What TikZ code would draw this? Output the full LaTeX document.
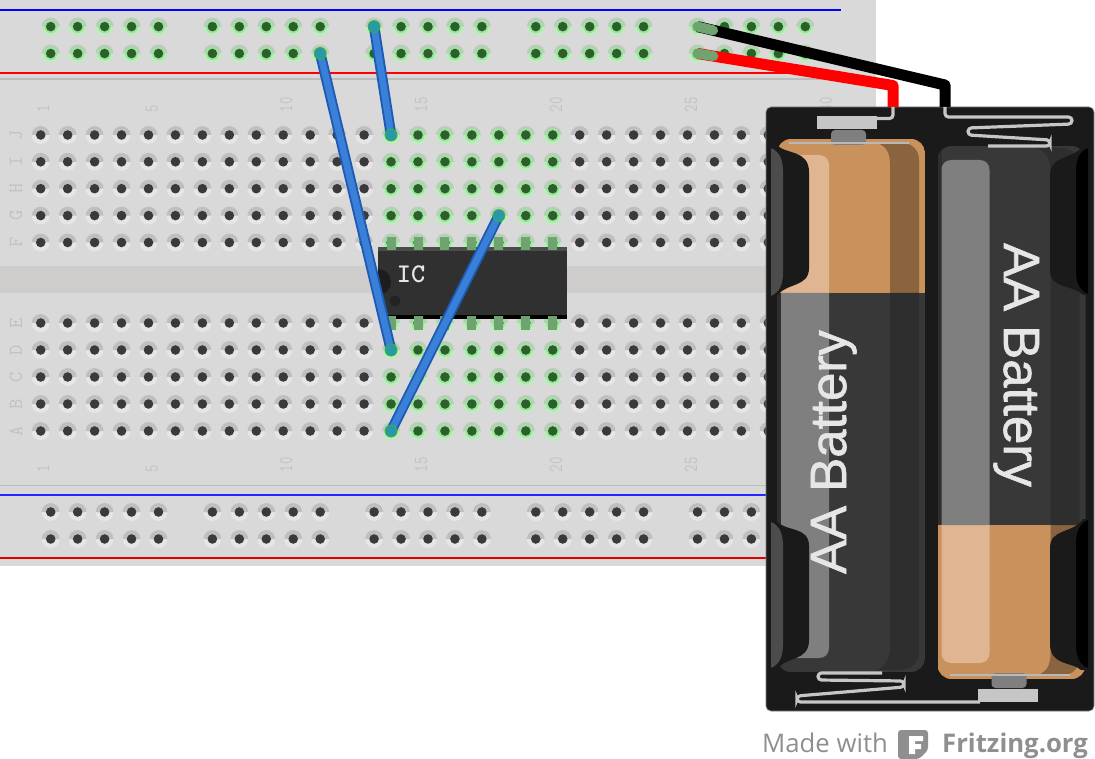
\documentclass[tikz,border=0pt]{standalone}
\usepackage{fontspec}
\setsansfont{Open Sans}
\newfontfamily\batfont[FakeBold=1.2]{Liberation Sans}
\usetikzlibrary{calc}
\definecolor{boardgray}{HTML}{D9D9D9}
\definecolor{channelgray}{HTML}{CFCDCB}
\definecolor{railgray}{HTML}{BDBDBD}
\definecolor{labelgray}{HTML}{C2C2C2}
\definecolor{rimtop}{HTML}{BFBFBF}
\definecolor{rimlow}{HTML}{E6E6E6}
\definecolor{corehole}{HTML}{3A3A3A}
\definecolor{greentop}{HTML}{BFC9BF}
\definecolor{greenlow}{HTML}{BDEDBD}
\definecolor{greenring}{HTML}{9BE49B}
\definecolor{greencore}{HTML}{2C5F2C}
\definecolor{wireout}{HTML}{1D5AB2}
\definecolor{wirein}{HTML}{3A80D8}
\definecolor{wireend}{HTML}{2A98A8}
\definecolor{pingreen}{HTML}{6FA36F}
\definecolor{icbody}{HTML}{303030}
\definecolor{batblack}{HTML}{1A1A1A}
\definecolor{cellgray}{HTML}{383838}
\definecolor{celldark}{HTML}{2E2E2E}
\definecolor{copper}{HTML}{C9915B}
\definecolor{copperlight}{HTML}{DFB691}
\definecolor{copperdark}{HTML}{89643E}
\definecolor{striplight}{HTML}{7F7F7F}
\definecolor{springgray}{HTML}{C6C6C6}
\definecolor{logogray}{HTML}{8F8F8F}
\tikzset{
  holecore/.style={circle,inner sep=0pt,minimum size=9.6pt},
  rowlabel/.style={rotate=90,text=labelgray,inner sep=0pt,font=\fontsize{20}{20}\selectfont\ttfamily},
  numlabel/.style={rotate=90,anchor=west,text=labelgray,inner sep=0pt,font=\fontsize{20}{20}\selectfont\ttfamily},
  icpin/.style={fill=pingreen},
  jumper/.style={line width=10.6pt,wireout},
  jumpercore/.style={line width=6.8pt,wirein},
  jumperend/.style={circle,fill=wireend,draw=green!65!black!80,line width=0.8pt,inner sep=0pt,minimum size=12pt},
  battwire/.style={line width=11pt,line join=round},
  wiretip/.style={line width=10pt,pingreen,line cap=round},
  spring/.style={line width=3.2pt,springgray,rounded corners=3.5pt},
  battext/.style={text=rimlow,inner sep=0pt,font=\fontsize{51}{51}\selectfont\batfont},
  madewith/.style={anchor=base west,text=logogray,inner sep=0pt,font=\fontsize{25.7}{26}\selectfont\sffamily},
}
\newcommand{\plainhole}[3]{
  \fill[rimlow] (#1,#2) circle[radius=9pt];
  \fill[rimtop] (#1-9,#2) arc[start angle=180,end angle=0,radius=9pt] -- cycle;
  \node[holecore,fill=corehole] (#3) at (#1,#2) {};
}
\newcommand{\greenhole}[3]{
  \fill[greenlow] (#1,#2) circle[radius=9pt];
  \fill[greentop] (#1-9,#2) arc[start angle=180,end angle=0,radius=9pt] -- cycle;
  \fill[greenring] (#1,#2) circle[radius=6.6pt];
  \node[holecore,fill=greencore] (#3) at (#1,#2) {};
}
\newcommand{\battcell}{
  \begin{scope}
    \clip[rounded corners=14pt] (777,139) rectangle (925,672);
    \fill[copper] (777,139) rectangle (925,293);
    \fill[cellgray] (777,293) rectangle (925,672);
    \fill[celldark] (777,293) rectangle (781,672);
    \fill[copperdark] (877,143) .. controls (886,146) and (890,152) .. (890,165) -- (890,293)
      -- (919,293) -- (919,160) .. controls (919,150) and (912,143) .. (902,143) -- cycle;
    \fill[celldark] (890,293) -- (890,645) .. controls (890,660) and (885,668) .. (875,670)
      -- (900,670) .. controls (912,670) and (919,662) .. (919,650) -- (919,293) -- cycle;
    \fill[copperlight] (781,293) -- (781,165) .. controls (781,159) and (785,155) .. (791,155)
      -- (819,155) .. controls (825,155) and (829,159) .. (829,165) -- (829,293) -- cycle;
    \fill[striplight] (781,293) -- (781,648) .. controls (781,654) and (785,658) .. (791,658)
      -- (819,658) .. controls (825,658) and (829,654) .. (829,648) -- (829,293) -- cycle;
  \end{scope}
  \fill[striplight,rounded corners=4pt] (831,145) -- (831,130) -- (866,130) -- (866,145) -- cycle;
  \fill[rimtop!90!gray] (789,142.2) -- (909,142.2) -- (909,144) -- (789,144) -- cycle;
  \fill[springgray] (817,116) rectangle (877,129);
}
\newcommand{\battclip}[1]{
  \fill[batblack] (771,146) -- (778,146) .. controls (786,154) and (809,150) .. (809,172)
    -- (809,268) .. controls (809,288) and (786,282) .. (776,297) -- (771,297) -- cycle;
  \fill[batblack] (771,521) -- (776,521) .. controls (786,532) and (809,526) .. (809,546)
    -- (809,640) .. controls (809,662) and (786,656) .. (776,670) -- (771,670) -- cycle;
  \fill[#1] (771,148) .. controls (780,152) and (783,160) .. (783,172)
    -- (783,272) .. controls (783,284) and (780,292) .. (771,296) -- cycle;
  \fill[#1] (771,522) .. controls (780,526) and (783,534) .. (783,546)
    -- (783,644) .. controls (783,656) and (780,664) .. (771,668) -- cycle;
}
\begin{document}
\begin{tikzpicture}[x=1pt,y=-1pt]
\useasboundingbox (0,0) rectangle (1095,759);

\fill[boardgray] (0,0) rectangle (876,566);
\fill[channelgray] (0,266) rectangle (876,293);
\draw[railgray,line width=2.5pt] (0,79) -- (876,79);
\draw[railgray,line width=1.2pt] (0,485.5) -- (876,485.5);
\draw[blue,line width=1.5pt] (0,10) -- (841,10);
\draw[red,line width=1.5pt] (0,73) -- (841,73);
\draw[blue!85!white,line width=1.8pt] (0,495) -- (841,495);
\draw[red!90!black,line width=1.8pt] (0,558) -- (841,558);

\foreach \num/\numx in {1/43,5/152,10/286,15/421,20/556,25/691,30/826} {
  \node[numlabel] at (\numx,112.5) {\scalebox{0.72}[1]{\num}};
  \node[numlabel] at (\numx,472.5) {\scalebox{0.72}[1]{\num}};
}
\foreach \letter/\lettery in {J/135,I/161.8,H/188.7,G/215.6,F/242.5,E/323,D/350,C/377,B/404,A/431}
  \node[rowlabel] at (16,\lettery) {\letter};

\foreach \col in {1,...,30} {
  \pgfmathsetmacro{\colx}{40.7+26.95*(\col-1)}
  \foreach \row/\rowy in {j/135,i/161.8,h/188.7,g/215.6,f/242.5,e/323,d/350,c/377,b/404,a/431} {
    \ifnum\col>13 \ifnum\col<21
      \greenhole{\colx}{\rowy}{\row\col}
    \else
      \plainhole{\colx}{\rowy}{\row\col}
    \fi \else
      \plainhole{\colx}{\rowy}{\row\col}
    \fi
  }
}

\foreach \grp in {0,...,4} {
  \foreach \pos in {1,...,5} {
    \pgfmathtruncatemacro{\num}{5*\grp+\pos}
    \pgfmathsetmacro{\railx}{50.7+26.95*(\pos-1+6*\grp)}
    \greenhole{\railx}{26.6}{ta\num}
    \greenhole{\railx}{53.5}{tb\num}
    \plainhole{\railx}{512}{ba\num}
    \plainhole{\railx}{539}{bb\num}
  }
}

\node[fill=icbody,inner sep=0pt,minimum width=189pt,minimum height=72pt] (ic) at (472.5,283) {};
\fill[black] (378,315.5) rectangle (567,319);
\fill[black!70] (378,247) rectangle (567,251.5);
\foreach \col in {14,...,20} {
  \fill[icpin] ($(f\col)+(-4.5,-5)$) rectangle ($(f\col)+(4.5,8)$);
  \fill[icpin] ($(e\col)+(-4.5,-7)$) rectangle ($(e\col)+(4.5,7)$);
}
\fill[batblack!85!icbody] (378,269) arc[start angle=90,end angle=-90,radius=13pt] -- cycle;
\fill[batblack!60!icbody] (395,301) circle[radius=5.5pt];
\node[text=rimlow,inner sep=0pt,font=\fontsize{27}{27}\selectfont\ttfamily\bfseries] (iclabel) at (411,274.5) {IC};

\foreach \from/\to in {tb10/d14,ta11/j14,g18/a14} {
  \draw[jumper] (\from.center) -- (\to.center);
  \draw[jumpercore] (\from.center) -- (\to.center);
  \node[jumperend] at (\from.center) {};
  \node[jumperend] at (\to.center) {};
}

\fill[batblack,draw=gray,line width=0.7pt,rounded corners=5pt] (766,107) rectangle (1094,711);
\battcell
\begin{scope}[shift={(160.5,818)},yscale=-1]
  \battcell
\end{scope}
\battclip{black!70!white}
\begin{scope}[shift={(1859,816)},xscale=-1,yscale=-1]
  \battclip{black}
\end{scope}

\coordinate (redend) at (893,107);
\coordinate (redbend) at (893,85.5);
\coordinate (blackend) at (945,107);
\coordinate (blackbend) at (945,85);
\draw[battwire,red] (tb21.center) -- (redbend) -- (redend);
\draw[battwire,black] (ta21.center) -- (blackbend) -- (blackend);
\draw[wiretip] (tb21.center) -- ($(tb21.center)!16pt!(redbend)$);
\draw[wiretip] (ta21.center) -- ($(ta21.center)!16pt!(blackbend)$);

\draw[spring] (877,118.5) -- (893,118.5) -- (893,107);
\draw[spring] (945,107) -- (945,117) -- (1072,117) -- (1072,124) -- (968,128) -- (968,135) -- (1050,140) -- (1050,146) -- (988,146);
\draw[spring] (980,702) -- (797,702) -- (797,696) -- (904,687) -- (904,681) -- (818,680) -- (818,673) -- (882,673);

\node[battext,rotate=90,anchor=base] (leftbat) at (846,452) {AA Battery};
\node[battext,rotate=-90,anchor=base] (rightbat) at (1004,365) {AA Battery};

\node[madewith] (madelabel) at (762,752) {Made with};
\fill[logogray,rounded corners=3pt] (898,730) -- (928,730) -- (928,750) -- (919,759) -- (898,759) -- cycle;
\fill[white] (909,736) -- (923,736) -- (923,741) -- (915,741) -- (915,744) -- (921,744) -- (921,749) -- (915,749) -- (915,754) -- (909,754) -- cycle;
\node[madewith,font=\fontsize{25.7}{26}\selectfont\sffamily\bfseries] (fritzlabel) at (942,752) {Fritzing.org};
\end{tikzpicture}
\end{document}
